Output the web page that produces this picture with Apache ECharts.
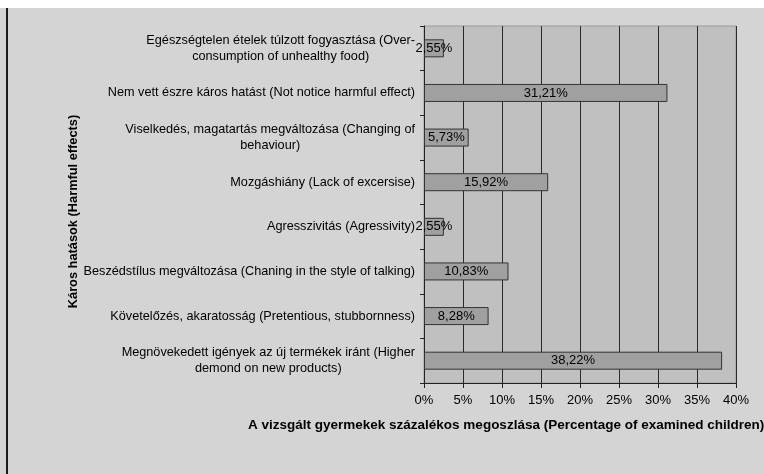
<!DOCTYPE html>
<html>
<head>
<meta charset="utf-8">
<script src="https://cdn.jsdelivr.net/npm/echarts@6/dist/echarts.min.js"></script>
<style>
html,body{margin:0;padding:0;background:#fff;}
#c{width:764px;height:474px;}
</style>
</head>
<body>
<div id="c"></div>
<script>
var categories = [
  'Egészségtelen ételek túlzott fogyasztása (Over-\nconsumption of unhealthy food)',
  'Nem vett észre káros hatást (Not notice harmful effect)',
  'Viselkedés, magatartás megváltozása (Changing of\nbehaviour)',
  'Mozgáshiány (Lack of excersise)',
  'Agresszivitás (Agressivity)',
  'Beszédstílus megváltozása (Chaning in the style of talking)',
  'Követelőzés, akaratosság (Pretentious, stubbornness)',
  'Megnövekedett igények az új termékek iránt (Higher\ndemond on new products)'
];
var values = [2.55, 31.21, 5.73, 15.92, 2.55, 10.83, 8.28, 38.22];
var xTicks = { min: 0, max: 40, step: 5 };
var yTitle = 'Káros hatások (Harmful effects)';
var xTitle = 'A vizsgált gyermekek százalékos megoszlása (Percentage of examined children)';

var chart = echarts.init(document.getElementById('c'));
var FONT = 'Liberation Sans, Arial, sans-serif';
chart.setOption({
  backgroundColor: '#D4D4D4',
  animation: false,
  textStyle: { fontFamily: FONT },
  graphic: [
    { type: 'rect', shape: { x: 0, y: 0, width: 764, height: 8 }, style: { fill: '#ffffff' }, silent: true },
    { type: 'rect', shape: { x: 6, y: 8, width: 2, height: 466 }, style: { fill: '#1a1a1a' }, silent: true },
    { type: 'text', left: 248, top: 418, style: { text: xTitle, font: 'bold 13.5px ' + FONT, fill: '#000' }, silent: true }
  ],
  grid: {
    left: 424, right: 28, top: 26, bottom: 91,
    show: true, backgroundColor: '#C0C0C0', borderColor: '#9a9a9a', borderWidth: 1
  },
  xAxis: {
    type: 'value', min: xTicks.min, max: xTicks.max, interval: xTicks.step,
    axisLine: { show: true, lineStyle: { color: '#222', width: 1 } },
    axisTick: { show: true, length: 5, lineStyle: { color: '#222' } },
    axisLabel: { formatter: '{value}%', color: '#000', fontSize: 13, margin: 11 },
    splitLine: { show: true, lineStyle: { color: '#2a2a2a', width: 1 } }
  },
  yAxis: {
    type: 'category', data: categories, inverse: true,
    name: yTitle, nameLocation: 'middle', nameRotate: 90, nameGap: 336,
    nameTextStyle: { fontWeight: 'bold', fontSize: 12.8, color: '#000', padding: [0, 14, 0, 0] },
    axisLine: { show: true, lineStyle: { color: '#222', width: 1 } },
    axisTick: { show: true, length: 4, lineStyle: { color: '#222' } },
    axisLabel: {
      margin: 9, color: '#000', fontSize: 12.7,
      formatter: function (v) {
        return v.split('\n').map(function (s) { return '{c|' + s + '}'; }).join('\n');
      },
      rich: { c: { align: 'center', fontSize: 12.7, lineHeight: 16, color: '#000' } }
    }
  },
  series: [{
    type: 'bar', data: values, barWidth: 18,
    itemStyle: { color: '#A0A0A0', borderColor: '#333', borderWidth: 1 },
    label: {
      show: true, position: 'inside', color: '#000', fontSize: 13,
      formatter: function (p) { return p.value.toFixed(2).replace('.', ',') + '%'; }
    }
  }]
});
</script>
</body>
</html>
